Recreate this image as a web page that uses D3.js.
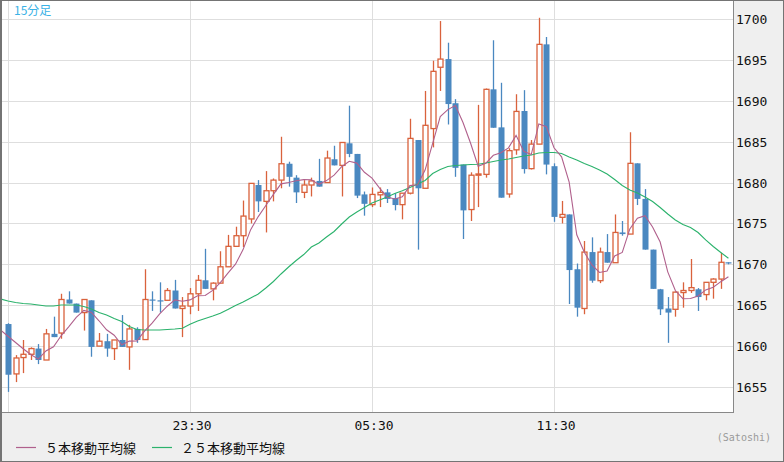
<!DOCTYPE html>
<html>
<head>
<meta charset="utf-8">
<script src="https://cdn.jsdelivr.net/npm/d3@7/dist/d3.min.js"></script>
<style>
  body { margin: 0; background: #fff; }
  svg { display: block; }
</style>
</head>
<body>
<div id="chart"></div>
<script>
// 15 minute candles, first one at 17:30
var fmt = d3.timeFormat("%H:%M");
var t0 = new Date(2020, 0, 1, 17, 30);
var times = d3.range(96).map(function(i) { return fmt(d3.timeMinute.offset(t0, 15 * i)); });

var open = [1662.7,1656.6,1658.6,1659.0,1659.7,1658.3,1661.5,1661.6,1665.7,1665.2,1664.1,1665.6,1660.0,1660.6,1659.7,1660.75,1659.9,1662.1,1660.8,1665.7,
  1665.6,1665.6,1666.8,1664.6,1664.9,1666.4,1668.05,1667.0,1667.7,1669.7,1672.2,1673.5,1675.55,1679.7,1677.7,1679.0,1680.3,1682.3,1680.6,1678.8,
  1679.7,1680.2,1680.0,1682.85,1682.1,1684.8,1683.5,1678.55,1677.3,1678.5,1678.8,1678.1,1677.3,1678.7,1685.2,1679.3,1686.6,1694.1,1695.1,1689.7,
  1682.2,1676.7,1680.9,1681.0,1691.4,1686.75,1678.6,1684.0,1688.75,1681.7,1684.7,1696.9,1682.0,1675.75,1676.1,1669.4,1664.6,1671.5,1668.0,1671.5,
  1670.2,1673.9,1673.7,1682.35,1678.0,1671.8,1666.95,1664.6,1664.5,1666.55,1666.8,1666.95,1666.3,1667.8,1668.2,1670.25];
var high = [1662.8,1658.9,1660.75,1659.85,1660.25,1662.1,1663.6,1666.4,1666.7,1665.2,1665.7,1665.6,1661.6,1661.5,1660.75,1663.8,1662.6,1662.3,1669.4,1666.7,
  1667.8,1667.1,1668.1,1666.0,1667.1,1668.7,1671.9,1667.8,1671.6,1673.6,1674.6,1677.8,1679.9,1680.3,1681.4,1680.5,1685.6,1682.55,1680.9,1680.3,
  1680.6,1682.9,1683.9,1684.5,1684.9,1689.4,1683.5,1678.9,1679.4,1679.4,1679.2,1678.7,1678.7,1687.8,1685.2,1691.2,1694.9,1699.75,1697.1,1690.2,
  1682.2,1681.25,1689.5,1691.5,1697.4,1692.2,1684.2,1690.8,1691.3,1685.2,1700.15,1697.8,1682.35,1677.75,1676.1,1670.1,1672.85,1673.3,1672.05,1673.7,
  1676.1,1675.3,1686.15,1682.35,1679.2,1671.8,1667.0,1666.0,1666.7,1667.8,1670.65,1667.1,1667.8,1668.3,1671.4,1670.25];
var low = [1654.4,1655.6,1656.7,1658.3,1657.8,1658.3,1661.1,1660.9,1665.2,1664.1,1661.9,1658.7,1660.0,1658.7,1658.3,1659.9,1657.1,1660.4,1660.8,1664.3,
  1664.1,1665.6,1664.6,1661.1,1663.9,1664.3,1667.0,1665.6,1667.7,1669.7,1672.2,1672.1,1675.0,1676.4,1673.9,1677.7,1679.3,1679.5,1677.5,1678.1,
  1678.3,1679.5,1680.0,1682.1,1678.3,1683.1,1678.1,1675.95,1677.0,1677.0,1677.5,1676.6,1675.5,1678.55,1671.8,1679.3,1684.3,1691.2,1687.1,1680.7,
  1673.1,1675.3,1677.0,1680.6,1686.7,1678.15,1678.15,1683.4,1681.1,1681.6,1684.7,1681.0,1675.2,1675.0,1665.15,1663.6,1663.9,1667.75,1667.7,1670.2,
  1670.2,1673.5,1673.7,1677.25,1671.8,1667.0,1663.8,1660.4,1663.6,1664.7,1666.5,1664.3,1665.6,1665.8,1667.0,1670.0];
var close = [1656.5,1658.55,1659.0,1659.7,1658.3,1661.5,1661.1,1665.7,1665.2,1664.1,1665.7,1659.9,1660.6,1659.7,1660.75,1659.9,1662.1,1660.75,1665.7,1665.6,
  1665.55,1666.8,1664.6,1664.9,1666.4,1668.05,1667.0,1667.7,1669.7,1672.2,1673.5,1675.9,1679.9,1677.7,1679.0,1680.3,1682.3,1680.7,1678.8,1679.7,
  1680.2,1679.5,1683.0,1682.1,1684.9,1683.5,1678.4,1677.4,1678.55,1678.8,1678.0,1677.25,1678.7,1685.4,1679.3,1687.0,1693.6,1695.1,1689.6,1681.8,
  1676.6,1680.9,1681.05,1691.4,1686.7,1678.15,1683.9,1688.7,1681.65,1684.7,1696.9,1682.2,1675.8,1676.1,1669.3,1664.7,1671.5,1668.0,1671.5,1670.2,
  1673.9,1673.7,1682.35,1678.0,1671.8,1667.0,1664.5,1664.1,1666.6,1666.8,1667.15,1666.0,1667.8,1668.2,1670.25,1670.2];

// moving averages: first value belongs to the slot before the first candle (17:15)
var ma5 = [1661.97,1661.2,1660.44,1659.68,1658.97,1658.41,1659.41,1659.92,1661.26,1662.36,1663.52,1664.36,1664.12,1663.1,1662.0,1661.33,1660.17,1660.61,1660.64,1661.84,
  1662.81,1663.94,1664.88,1665.65,1665.49,1665.65,1666.15,1666.19,1666.81,1667.77,1668.93,1670.02,1671.8,1674.24,1675.84,1677.2,1678.56,1679.84,1680.0,1680.22,
  1680.36,1680.34,1679.78,1680.24,1680.9,1681.94,1682.6,1682.38,1681.26,1680.55,1679.33,1678.23,1678.0,1678.26,1679.63,1679.73,1681.53,1684.8,1688.08,1688.92,
  1689.42,1687.34,1684.8,1681.99,1682.35,1683.33,1683.64,1684.24,1685.77,1683.82,1683.42,1687.17,1686.83,1684.25,1683.14,1680.06,1673.62,1671.48,1669.92,1669.0,
  1669.18,1671.02,1671.46,1674.33,1675.63,1675.95,1674.57,1672.73,1669.08,1666.8,1665.8,1665.83,1666.13,1666.87,1667.19,1667.88,1668.49];
var ma25 = [1665.76,1665.52,1665.33,1665.21,1665.15,1665.03,1664.91,1664.91,1665.03,1665.03,1665.03,1664.84,1664.54,1664.11,1663.81,1663.38,1663.01,1662.4,1662.03,1661.97,
  1661.97,1661.97,1662.03,1662.09,1662.18,1662.67,1663.07,1663.38,1663.68,1664.01,1664.48,1664.97,1665.39,1665.88,1666.37,1667.11,1667.9,1668.82,1669.67,1670.47,
  1671.2,1672.12,1672.61,1673.34,1674.02,1674.93,1675.79,1676.4,1676.95,1677.5,1677.87,1678.23,1678.66,1679.0,1679.4,1679.82,1680.25,1681.11,1681.6,1681.96,
  1682.09,1682.15,1682.21,1682.23,1682.39,1682.58,1682.76,1682.88,1683.06,1683.25,1683.37,1683.61,1683.68,1683.68,1683.55,1683.13,1682.76,1682.33,1681.96,1681.54,
  1681.05,1680.37,1679.64,1679.09,1678.72,1678.23,1677.68,1676.95,1676.16,1675.42,1674.87,1674.5,1673.89,1672.98,1672.18,1671.45,1670.74];

var yTicks = [1655, 1660, 1665, 1670, 1675, 1680, 1685, 1690, 1695, 1700];
var gridTimes = ["17:30", "23:30", "05:30", "11:30"];
var labelTimes = ["23:30", "05:30", "11:30"];
var legendNames = ["５本移動平均線", "２５本移動平均線"];

var w = 784, h = 462;
var plotRight = 733, plotBottom = 412;
var upColor = "#d9623c", downColor = "#4a88c0";
var ma5Color = "#b0608c", ma25Color = "#2bb26c";

var svg = d3.select("#chart").append("svg")
    .attr("width", w)
    .attr("height", h);

svg.append("rect").attr("width", w).attr("height", h).attr("fill", "#efefef");
svg.append("rect").attr("x", 1).attr("y", 1)
    .attr("width", plotRight - 1).attr("height", plotBottom - 1)
    .attr("fill", "#fff");

// x is the candle index, one slot = 15 minutes
var x = d3.scaleLinear().domain([0, 24]).range([8, 190]);
var y = d3.scaleLinear().domain([1655, 1700]).range([387, 19]);

svg.append("defs").append("clipPath").attr("id", "plot")
  .append("rect").attr("x", 2).attr("y", 1)
    .attr("width", plotRight - 2).attr("height", plotBottom - 1);

var grid = svg.append("g").attr("stroke", "#dedede").attr("stroke-width", 1);
grid.selectAll(".hg").data(yTicks).enter().append("line")
    .attr("x1", 2).attr("x2", plotRight)
    .attr("y1", function(d) { return Math.round(y(d)) + 0.5; })
    .attr("y2", function(d) { return Math.round(y(d)) + 0.5; });
grid.selectAll(".vg").data(gridTimes).enter().append("line")
    .attr("x1", function(d) { return Math.round(x(times.indexOf(d))) + 0.5; })
    .attr("x2", function(d) { return Math.round(x(times.indexOf(d))) + 0.5; })
    .attr("y1", 1).attr("y2", plotBottom);

var plot = svg.append("g").attr("clip-path", "url(#plot)");

var candles = times.map(function(t, i) {
  return { i: i, o: open[i], h: high[i], l: low[i], c: close[i] };
});

var cg = plot.selectAll(".candle").data(candles).enter().append("g")
    .attr("transform", function(d) { return "translate(" + (Math.round(x(d.i)) + 0.5) + ",0)"; });

cg.append("line")
    .attr("y1", function(d) { return y(d.h); })
    .attr("y2", function(d) { return y(d.l); })
    .attr("stroke", function(d) { return d.c >= d.o ? upColor : downColor; })
    .attr("stroke-width", 1.3);

cg.append("rect")
    .attr("x", function(d) { return d.c >= d.o ? -2.5 : -3; })
    .attr("width", function(d) { return d.c >= d.o ? 5 : 6; })
    .attr("y", function(d) { return y(Math.max(d.o, d.c)); })
    .attr("height", function(d) { return Math.max(1.2, Math.abs(y(d.o) - y(d.c))); })
    .attr("fill", function(d) { return d.c >= d.o ? "#fff" : downColor; })
    .attr("stroke", function(d) { return d.c >= d.o ? upColor : "none"; })
    .attr("stroke-width", 1.3);

var line = d3.line()
    .x(function(d, i) { return x(i - 1); })
    .y(function(d) { return y(d); });

plot.append("path").datum(ma25)
    .attr("d", line).attr("fill", "none")
    .attr("stroke", ma25Color).attr("stroke-width", 1.1);
plot.append("path").datum(ma5)
    .attr("d", line).attr("fill", "none")
    .attr("stroke", ma5Color).attr("stroke-width", 1.1);

// frame
svg.append("line").attr("x1", plotRight + 0.5).attr("x2", plotRight + 0.5)
    .attr("y1", 0).attr("y2", plotBottom + 1).attr("stroke", "#888");
svg.append("line").attr("x1", 0).attr("x2", plotRight + 1)
    .attr("y1", plotBottom + 0.5).attr("y2", plotBottom + 0.5).attr("stroke", "#888");
svg.append("rect").attr("x", 0.5).attr("y", 0.5)
    .attr("width", w - 1).attr("height", h - 1)
    .attr("fill", "none").attr("stroke", "#747474");
svg.append("line").attr("x1", 1.5).attr("x2", 1.5).attr("y1", 0).attr("y2", h)
    .attr("stroke", "#747474");

// y labels
svg.selectAll(".yl").data(yTicks).enter().append("text")
    .attr("x", 736)
    .attr("y", function(d) { return Math.round(y(d)) + 5; })
    .attr("font-family", "DejaVu Sans Mono, monospace")
    .attr("font-size", 13)
    .attr("fill", "#111")
    .text(function(d) { return d; });

// x labels
svg.selectAll(".xl").data(labelTimes).enter().append("text")
    .attr("x", function(d) { return x(times.indexOf(d)) + 2; })
    .attr("y", 430)
    .attr("text-anchor", "middle")
    .attr("font-family", "DejaVu Sans Mono, monospace")
    .attr("font-size", 13)
    .attr("fill", "#111")
    .text(function(d) { return d; });

svg.append("text")
    .attr("x", 14).attr("y", 15)
    .attr("font-family", "Noto Sans CJK JP, sans-serif")
    .attr("font-size", 12)
    .attr("fill", "#3ab2e6")
    .text("15分足");

svg.append("text")
    .attr("x", 771).attr("y", 441)
    .attr("text-anchor", "end")
    .attr("font-family", "DejaVu Sans Mono, monospace")
    .attr("font-size", 10)
    .attr("fill", "#9a9a9a")
    .text("(Satoshi)");

// legend
var legendX = [16, 152];
var legendColors = [ma5Color, ma25Color];
var lg = svg.selectAll(".lg").data(legendNames).enter().append("g")
    .attr("transform", function(d, i) { return "translate(" + legendX[i] + ",448)"; });
lg.append("line").attr("x1", 0).attr("x2", 20).attr("y1", -0.5).attr("y2", -0.5)
    .attr("stroke", function(d, i) { return legendColors[i]; }).attr("stroke-width", 1.2);
lg.append("text").attr("x", 29).attr("y", 5)
    .attr("font-family", "Noto Sans CJK JP, sans-serif")
    .attr("font-size", 13)
    .attr("fill", "#111")
    .text(function(d) { return d; });
</script>
</body>
</html>
